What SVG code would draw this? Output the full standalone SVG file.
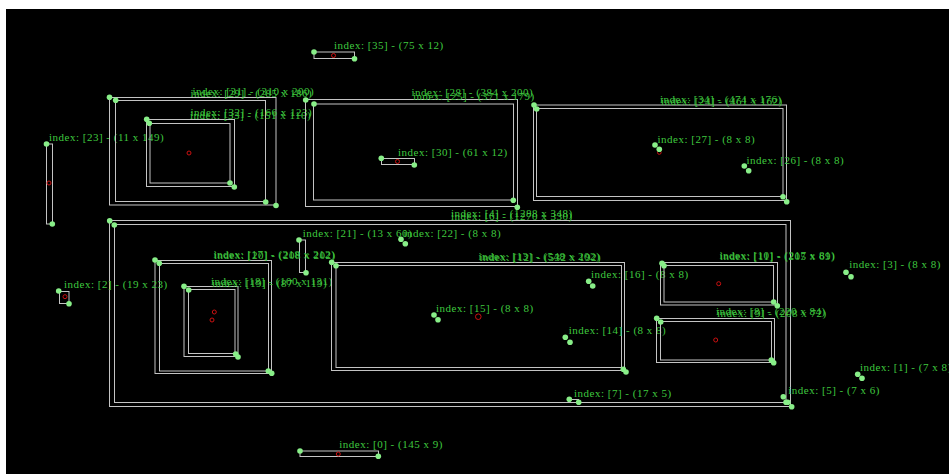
<svg xmlns="http://www.w3.org/2000/svg" width="949" height="474" viewBox="0 0 949 474">
<style>
.r{fill:none;stroke:#c4c4c4;stroke-width:1}
.d{fill:#88ee88}
.c{fill:none;stroke:#cc1111;stroke-width:1}
.t{font-family:"Liberation Serif",serif;font-size:11px;letter-spacing:0.5px;fill:#3fc83f}
</style>
<rect x="0" y="0" width="949" height="474" fill="#ffffff"/>
<rect x="6" y="9" width="943" height="465" fill="#000000"/>
<g id="connectors"/>
<g id="n35"><rect class="r" x="314" y="52" width="40.5" height="6.5"/><circle class="c" cx="333.5" cy="55.5" r="2"/><circle class="d" cx="314" cy="52" r="2.8"/><circle class="d" cx="354.5" cy="58.7" r="2.8"/><text class="t" x="334" y="49">index: [35] - (75 x 12)</text></g>
<g id="n23"><rect class="r" x="46.5" y="144" width="6" height="80"/><circle class="c" cx="49" cy="183" r="2"/><circle class="d" cx="46.5" cy="144" r="2.8"/><circle class="d" cx="52.3" cy="224" r="2.8"/><text class="t" x="49" y="141">index: [23] - (11 x 149)</text></g>
<g id="n31"><rect class="r" x="109.5" y="97.5" width="166.5" height="107.5"/><circle class="d" cx="109.5" cy="97.3" r="2.8"/><circle class="d" cx="276" cy="205.5" r="2.8"/><text class="t" x="192.5" y="94.5">index: [31] - (310 x 200)</text></g>
<g id="n29"><rect class="r" x="115.5" y="100.5" width="150" height="101"/><circle class="d" cx="115.7" cy="100.3" r="2.8"/><circle class="d" cx="265.7" cy="202" r="2.8"/><text class="t" x="190.5" y="96.5">index: [29] - (285 x 186)</text></g>
<g id="n32"><rect class="r" x="146.5" y="119.5" width="88" height="67"/><circle class="d" cx="146.7" cy="119.3" r="2.8"/><circle class="d" cx="234.3" cy="187" r="2.8"/><text class="t" x="190.5" y="116">index: [32] - (166 x 123)</text></g>
<g id="n33"><rect class="r" x="150" y="123.5" width="80" height="59.5"/><circle class="c" cx="189" cy="153" r="2"/><circle class="d" cx="149.3" cy="123.3" r="2.8"/><circle class="d" cx="230" cy="183" r="2.8"/><text class="t" x="190" y="119">index: [33] - (151 x 110)</text></g>
<g id="n28"><rect class="r" x="305.5" y="99.5" width="212" height="107"/><circle class="d" cx="305.7" cy="100" r="2.8"/><circle class="d" cx="517.3" cy="207.3" r="2.8"/><text class="t" x="411.5" y="95.5">index: [28] - (384 x 200)</text></g>
<g id="n25"><rect class="r" x="313.5" y="104" width="200" height="96"/><circle class="d" cx="314" cy="104" r="2.8"/><circle class="d" cx="513.3" cy="200.3" r="2.8"/><text class="t" x="413" y="99.5">index: [25] - (371 x 179)</text></g>
<g id="n30"><rect class="r" x="381.5" y="158.5" width="33" height="6"/><circle class="c" cx="397.5" cy="161.5" r="2"/><circle class="d" cx="381.3" cy="158.3" r="2.8"/><circle class="d" cx="414.3" cy="165" r="2.8"/><text class="t" x="398" y="155.5">index: [30] - (61 x 12)</text></g>
<g id="n34"><rect class="r" x="533.5" y="105" width="253" height="95.5"/><circle class="d" cx="534" cy="105" r="2.8"/><circle class="d" cx="786.7" cy="201.7" r="2.8"/><text class="t" x="660" y="103">index: [34] - (474 x 176)</text></g>
<g id="n24"><rect class="r" x="536.5" y="108.5" width="246.5" height="88"/><circle class="d" cx="536.7" cy="109" r="2.8"/><circle class="d" cx="783" cy="196.7" r="2.8"/><text class="t" x="661" y="104.5">index: [24] - (461 x 162)</text></g>
<g id="n27"><circle class="c" cx="659.3" cy="152.5" r="1.8"/><circle class="d" cx="655" cy="145" r="2.8"/><circle class="d" cx="659.3" cy="149.3" r="2.8"/><text class="t" x="657.5" y="142.5">index: [27] - (8 x 8)</text></g>
<g id="n26"><circle class="d" cx="744.3" cy="166" r="2.8"/><circle class="d" cx="748.7" cy="170.7" r="2.8"/><text class="t" x="746.5" y="163.5">index: [26] - (8 x 8)</text></g>
<g id="n4"><rect class="r" x="109.5" y="220.5" width="681" height="186"/><circle class="d" cx="109.7" cy="220.7" r="2.8"/><circle class="d" cx="791.7" cy="406.7" r="2.8"/><text class="t" x="451" y="217">index: [4] - (1288 x 348)</text></g>
<g id="n6"><rect class="r" x="114.5" y="224.5" width="671.5" height="178"/><circle class="d" cx="114.3" cy="225" r="2.8"/><circle class="d" cx="786" cy="402.3" r="2.8"/><text class="t" x="451" y="220">index: [6] - (1270 x 330)</text></g>
<g id="n21"><rect class="r" x="299.5" y="240" width="6" height="32.5"/><circle class="d" cx="299" cy="240" r="2.8"/><circle class="d" cx="306" cy="272.7" r="2.8"/><text class="t" x="302.7" y="236.7">index: [21] - (13 x 60)</text></g>
<g id="n22"><circle class="d" cx="401" cy="239.3" r="2.8"/><circle class="d" cx="405.3" cy="243.7" r="2.8"/><text class="t" x="403.5" y="236.7">index: [22] - (8 x 8)</text></g>
<g id="n17"><rect class="r" x="155" y="260.5" width="116.5" height="113"/><circle class="d" cx="155" cy="260" r="2.8"/><circle class="d" cx="271.7" cy="373.3" r="2.8"/><text class="t" x="213.5" y="257.5">index: [17] - (218 x 212)</text></g>
<g id="n20"><rect class="r" x="159.5" y="263.5" width="109" height="107.5"/><circle class="d" cx="159.3" cy="263.3" r="2.8"/><circle class="d" cx="268.3" cy="371" r="2.8"/><text class="t" x="214" y="259">index: [20] - (208 x 202)</text></g>
<g id="n18"><rect class="r" x="184" y="286.5" width="54" height="70"/><circle class="c" cx="214.3" cy="312" r="2"/><circle class="d" cx="184" cy="286.3" r="2.8"/><circle class="d" cx="238" cy="357" r="2.8"/><text class="t" x="211" y="285">index: [18] - (100 x 131)</text></g>
<g id="n19"><rect class="r" x="188.5" y="289.5" width="46.5" height="64"/><circle class="c" cx="212" cy="320" r="2"/><circle class="d" cx="188.7" cy="290" r="2.8"/><circle class="d" cx="235.7" cy="354" r="2.8"/><text class="t" x="212" y="286.5">index: [19] - (87 x 119)</text></g>
<g id="n2"><rect class="r" x="59.5" y="291.5" width="9.5" height="12"/><circle class="c" cx="65" cy="296.7" r="2"/><circle class="d" cx="58.7" cy="291" r="2.8"/><circle class="d" cx="69" cy="303.7" r="2.8"/><text class="t" x="64" y="288.3">index: [2] - (19 x 23)</text></g>
<g id="n13"><rect class="r" x="331.5" y="262.5" width="293" height="108"/><circle class="c" cx="478.3" cy="316.7" r="2.8"/><circle class="d" cx="331.7" cy="262.3" r="2.8"/><circle class="d" cx="626" cy="372" r="2.8"/><text class="t" x="478.5" y="259.5">index: [13] - (548 x 202)</text></g>
<g id="n12"><rect class="r" x="336" y="265.5" width="285.5" height="102"/><circle class="d" cx="336" cy="265.7" r="2.8"/><circle class="d" cx="623.3" cy="369.3" r="2.8"/><text class="t" x="479.5" y="261">index: [12] - (532 x 192)</text></g>
<g id="n16"><circle class="d" cx="588.7" cy="281.3" r="2.8"/><circle class="d" cx="592.7" cy="286" r="2.8"/><text class="t" x="591" y="278.3">index: [16] - (8 x 8)</text></g>
<g id="n15"><circle class="d" cx="434" cy="315" r="2.8"/><circle class="d" cx="438" cy="319.7" r="2.8"/><text class="t" x="436" y="311.7">index: [15] - (8 x 8)</text></g>
<g id="n14"><circle class="d" cx="565.3" cy="337.3" r="2.8"/><circle class="d" cx="570" cy="342.3" r="2.8"/><text class="t" x="568.7" y="334">index: [14] - (8 x 8)</text></g>
<g id="n10"><rect class="r" x="660.5" y="262.5" width="117" height="42.5"/><circle class="d" cx="662" cy="263.3" r="2.8"/><circle class="d" cx="777.3" cy="305.7" r="2.8"/><text class="t" x="719.5" y="258.5">index: [10] - (217 x 81)</text></g>
<g id="n11"><rect class="r" x="664" y="265.5" width="109.5" height="36.5"/><circle class="c" cx="718.7" cy="283.7" r="2"/><circle class="d" cx="664" cy="265.7" r="2.8"/><circle class="d" cx="773.7" cy="302" r="2.8"/><text class="t" x="720" y="260">index: [11] - (205 x 69)</text></g>
<g id="n8"><rect class="r" x="656.5" y="318.5" width="118" height="44"/><circle class="d" cx="656.7" cy="318.3" r="2.8"/><circle class="d" cx="773.7" cy="362.7" r="2.8"/><text class="t" x="716" y="315">index: [8] - (220 x 84)</text></g>
<g id="n9"><rect class="r" x="660.5" y="321.5" width="111" height="38.5"/><circle class="c" cx="715.7" cy="340" r="2"/><circle class="d" cx="660.7" cy="322" r="2.8"/><circle class="d" cx="771.3" cy="360" r="2.8"/><text class="t" x="717" y="316.5">index: [9] - (208 x 72)</text></g>
<g id="n3"><circle class="d" cx="846" cy="272.3" r="2.8"/><circle class="d" cx="851" cy="276.7" r="2.8"/><text class="t" x="849.3" y="268.3">index: [3] - (8 x 8)</text></g>
<g id="n1"><circle class="d" cx="857.7" cy="374.3" r="2.8"/><circle class="d" cx="862" cy="378.3" r="2.8"/><text class="t" x="860" y="371">index: [1] - (7 x 8)</text></g>
<g id="n5"><circle class="d" cx="783.3" cy="396.7" r="2.8"/><circle class="d" cx="787.7" cy="402.3" r="2.8"/><text class="t" x="788.3" y="394">index: [5] - (7 x 6)</text></g>
<g id="n7"><rect class="r" x="569.5" y="399.5" width="9" height="3"/><circle class="d" cx="569.3" cy="399.3" r="2.8"/><circle class="d" cx="578.7" cy="402.3" r="2.8"/><text class="t" x="574" y="396.7">index: [7] - (17 x 5)</text></g>
<g id="n0"><rect class="r" x="300" y="451" width="78.5" height="5.5"/><circle class="c" cx="338.3" cy="454" r="2"/><circle class="d" cx="300" cy="451" r="2.8"/><circle class="d" cx="378.3" cy="456.3" r="2.8"/><text class="t" x="339.3" y="448.3">index: [0] - (145 x 9)</text></g>
</svg>
